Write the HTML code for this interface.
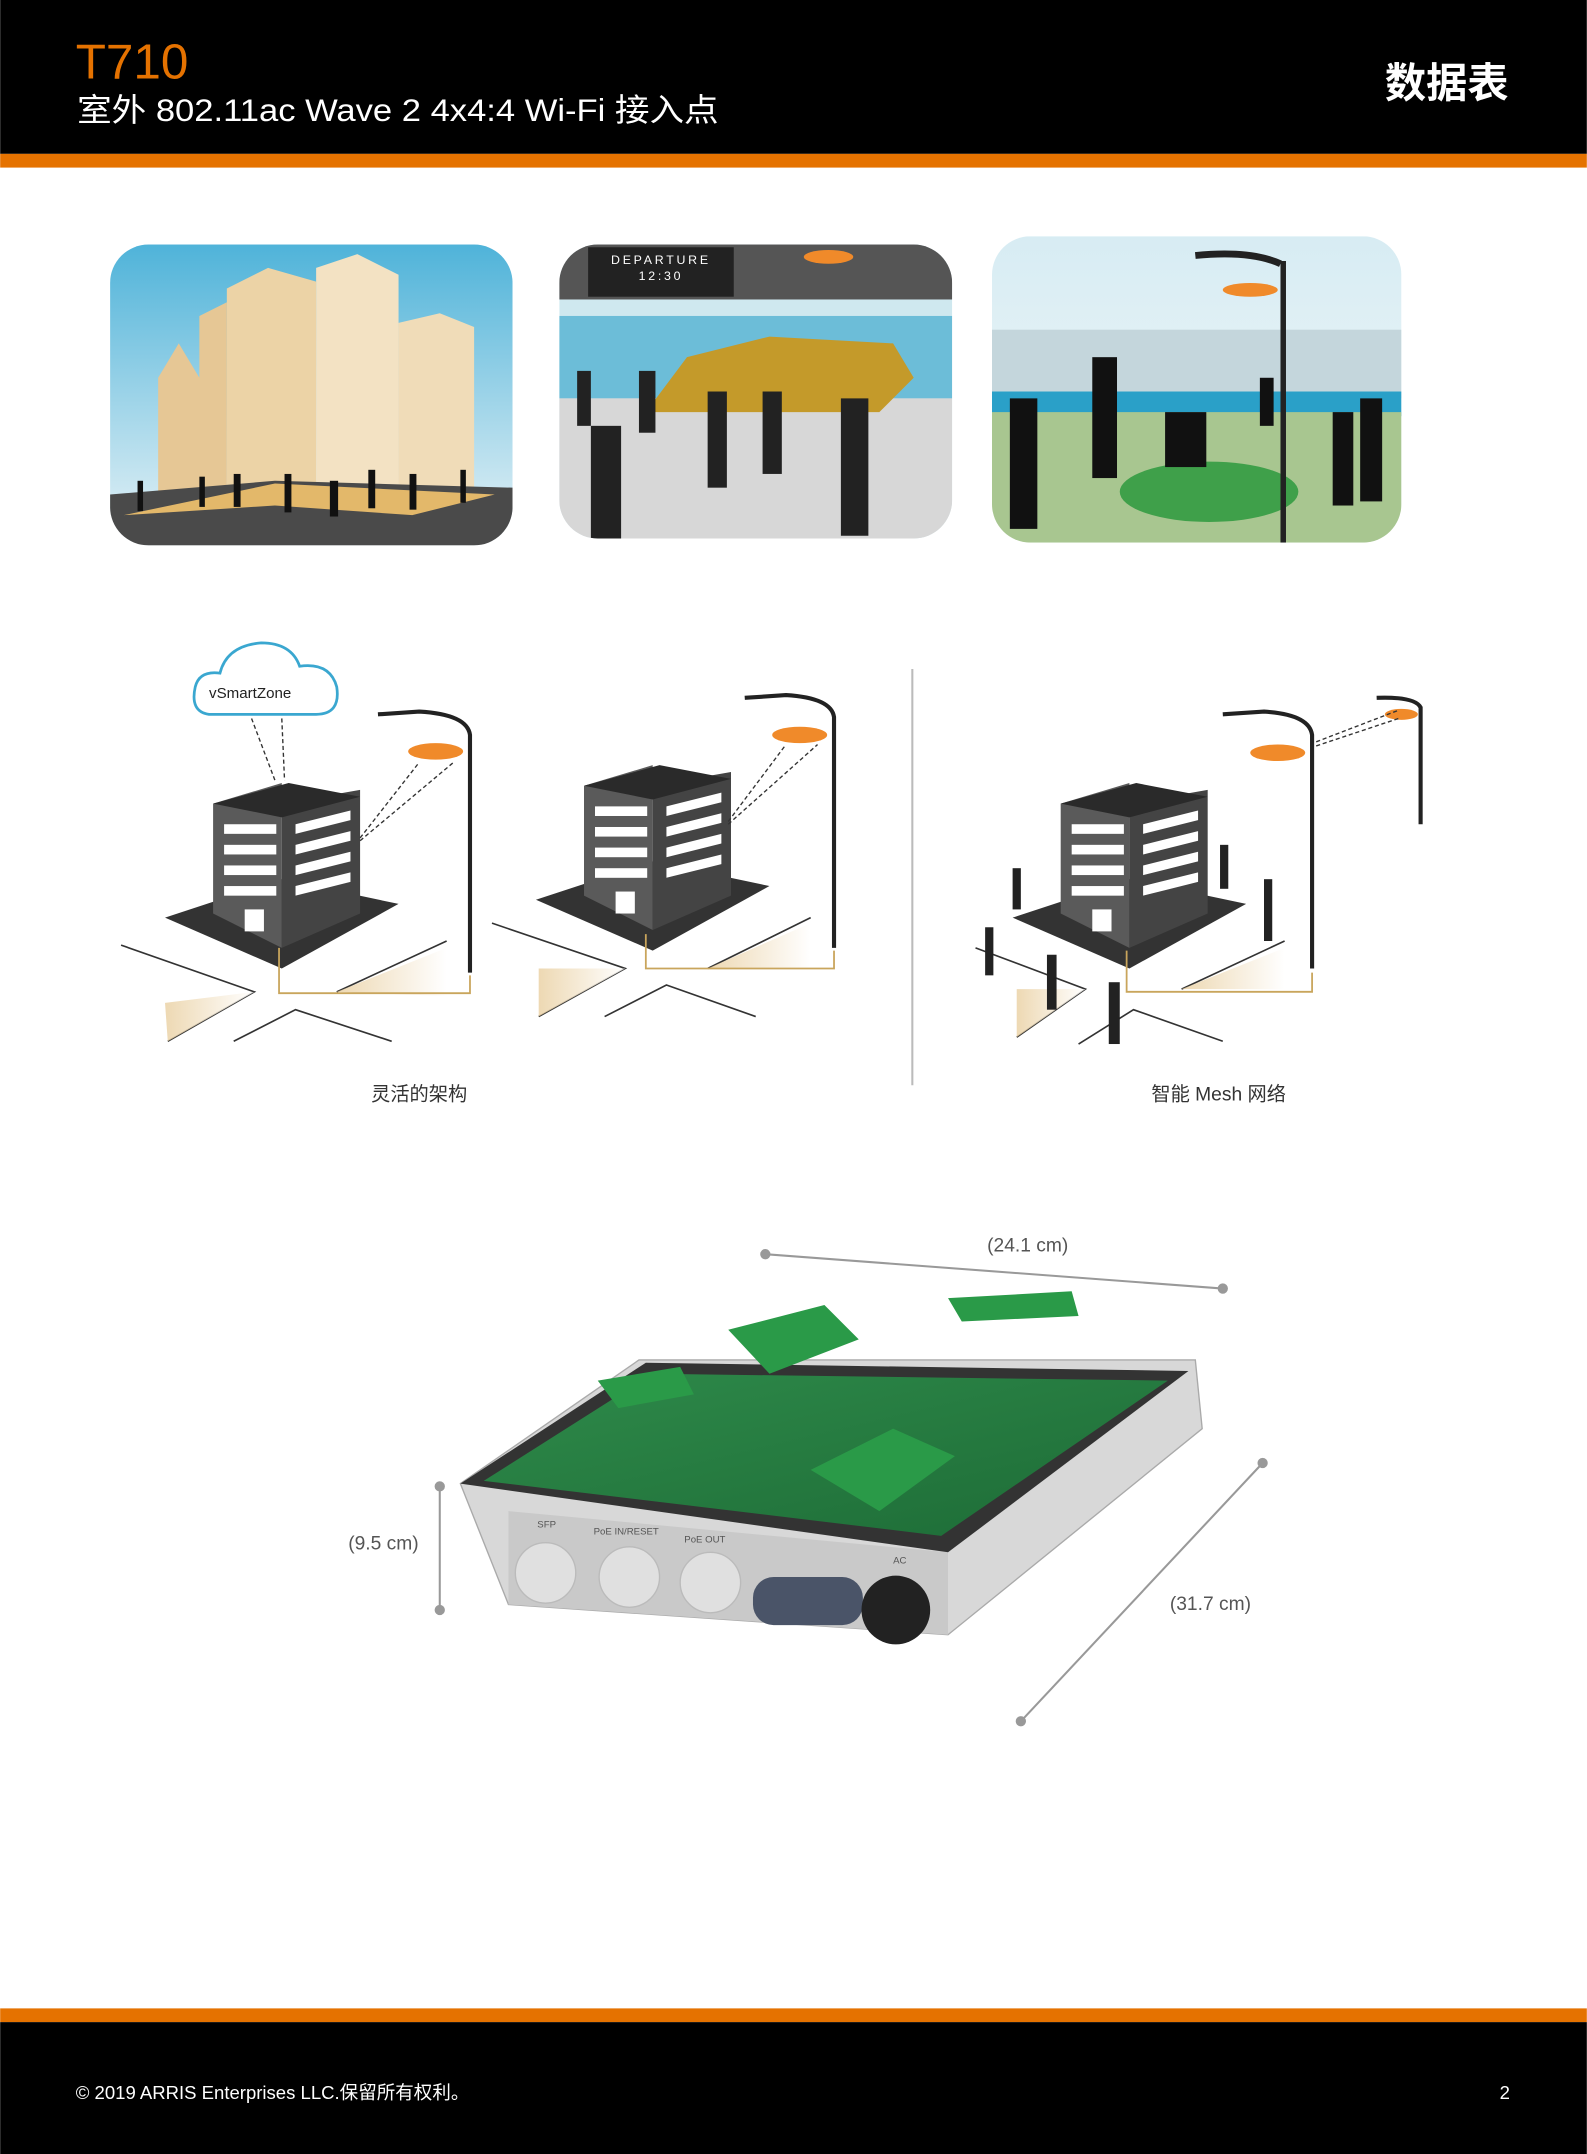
<!DOCTYPE html>
<html><head><meta charset="utf-8"><style>
html,body{margin:0;padding:0;background:#fff}
svg{display:block}
text{font-family:"Liberation Sans","Noto Sans CJK SC",sans-serif}
</style></head><body>
<svg width="1587" height="2154" viewBox="0 0 1155 1568" xmlns="http://www.w3.org/2000/svg">
<defs>
<linearGradient id="sky" x1="0" y1="0" x2="0" y2="1"><stop offset="0" stop-color="#4fb3d9"/><stop offset="1" stop-color="#e8f3f7"/></linearGradient>
<linearGradient id="sky2" x1="0" y1="0" x2="0" y2="1"><stop offset="0" stop-color="#d7ecf3"/><stop offset="1" stop-color="#f3f8f9"/></linearGradient>
<linearGradient id="road" x1="0" y1="0" x2="1" y2="0"><stop offset="0" stop-color="#e9cfa0"/><stop offset="1" stop-color="#fff"/></linearGradient>
<linearGradient id="grn" x1="0" y1="0" x2="1" y2="1"><stop offset="0" stop-color="#2e8a4a"/><stop offset="1" stop-color="#1d6b36"/></linearGradient>
</defs>
<rect x="0" y="0" width="1155" height="112" fill="#000"/>
<rect x="0" y="112" width="1155" height="10" fill="#e57200"/>
<text x="55" y="57" font-size="36" fill="#e57200">T710</text>
<text x="56" y="88" font-size="23" fill="#fff" textLength="467" lengthAdjust="spacingAndGlyphs">室外 802.11ac Wave 2 4x4:4 Wi-Fi 接入点</text>
<text x="1098" y="71" font-size="30" fill="#fff" font-weight="bold" text-anchor="end">数据表</text>

<clipPath id="c1"><rect x="80" y="178" width="293" height="219" rx="28"/></clipPath>
<g clip-path="url(#c1)">
<rect x="80" y="178" width="293" height="219" fill="url(#sky)"/>
<polygon points="115,360 115,275 130,250 145,275 145,230 165,220 165,360" fill="#e6c795"/>
<polygon points="165,360 165,210 195,195 230,205 230,360" fill="#ecd3a6"/>
<polygon points="230,360 230,195 260,185 290,200 290,360" fill="#f3e2c3"/>
<polygon points="290,360 290,235 320,228 345,238 345,360" fill="#f0dcb8"/>
<polygon points="80,397 80,360 200,350 373,355 373,397" fill="#4a4a4a"/>
<polygon points="90,375 200,352 360,360 300,375 200,368" fill="#e3b86a"/>
<g fill="#111"><rect x="100" y="350" width="4" height="22"/><rect x="145" y="347" width="4" height="22"/><rect x="170" y="345" width="5" height="24"/><rect x="207" y="345" width="5" height="28"/><rect x="240" y="350" width="6" height="26"/><rect x="268" y="342" width="5" height="28"/><rect x="298" y="345" width="5" height="26"/><rect x="335" y="342" width="4" height="24"/></g>
</g>
<clipPath id="c2"><rect x="407" y="178" width="286" height="214" rx="28"/></clipPath>
<g clip-path="url(#c2)">
<rect x="407" y="178" width="286" height="214" fill="#cfe8ef"/>
<rect x="407" y="230" width="286" height="60" fill="#2aa0c8" opacity=".6"/>
<rect x="407" y="290" width="286" height="102" fill="#d7d7d7"/>
<polygon points="470,300 500,260 560,245 650,250 665,275 640,300" fill="#c49a2a"/>
<rect x="407" y="178" width="286" height="40" fill="#555"/>
<rect x="428" y="180" width="106" height="36" fill="#222"/>
<text x="481" y="192" font-size="9" fill="#fff" text-anchor="middle" letter-spacing="2">DEPARTURE</text>
<text x="481" y="204" font-size="9" fill="#fff" text-anchor="middle" letter-spacing="2">12:30</text>
<ellipse cx="603" cy="187" rx="18" ry="5" fill="#f08a2a"/>
<g fill="#222"><rect x="430" y="310" width="22" height="82"/><rect x="515" y="285" width="14" height="70"/><rect x="465" y="270" width="12" height="45"/><rect x="555" y="285" width="14" height="60"/><rect x="612" y="290" width="20" height="100"/><rect x="420" y="270" width="10" height="40"/></g>
</g>
<clipPath id="c3"><rect x="722" y="172" width="298" height="223" rx="28"/></clipPath>
<g clip-path="url(#c3)">
<rect x="722" y="172" width="298" height="223" fill="url(#sky2)"/>
<rect x="722" y="240" width="298" height="50" fill="#c4d6dc"/>
<rect x="722" y="285" width="298" height="18" fill="#2aa0c8"/>
<rect x="722" y="300" width="298" height="95" fill="#a8c690"/>
<ellipse cx="880" cy="358" rx="65" ry="22" fill="#3fa04a"/>
<rect x="932" y="190" width="4" height="205" fill="#222"/>
<path d="M932 192 Q910 182 870 186" stroke="#222" stroke-width="5" fill="none"/>
<ellipse cx="910" cy="211" rx="20" ry="5" fill="#f08a2a"/>
<g fill="#111"><rect x="735" y="290" width="20" height="95"/><rect x="795" y="260" width="18" height="88"/><rect x="848" y="300" width="30" height="40"/><rect x="970" y="300" width="15" height="68"/><rect x="990" y="290" width="16" height="75"/><rect x="917" y="275" width="10" height="35"/></g>
</g>

<g stroke="#333" stroke-width="1.2" fill="none">
<path d="M88 688 L185 722 L122 758"/><path d="M170 758 L215 735 L285 758"/><path d="M245 722 L325 685"/>
<path d="M358 672 L455 705 L392 740"/><path d="M440 740 L485 717 L550 740"/><path d="M515 705 L590 668"/>
<path d="M710 690 L790 720 L740 755"/><path d="M785 760 L825 735 L890 758"/><path d="M860 720 L935 685"/>
</g>
<polygon points="120,730 185,722 122,758" fill="url(#road)" opacity=".8"/>
<polygon points="245,722 325,690 325,725" fill="url(#road)" opacity=".8"/>
<polygon points="392,705 455,705 392,740" fill="url(#road)" opacity=".8"/>
<polygon points="515,705 590,672 590,705" fill="url(#road)" opacity=".8"/>
<polygon points="740,720 790,720 740,755" fill="url(#road)" opacity=".8"/>
<polygon points="860,720 935,690 935,720" fill="url(#road)" opacity=".8"/>
<g id="b">
<polygon points="120,668 205,640 290,658 205,705" fill="#333"/>
<polygon points="155,585 205,570 205,690 155,665" fill="#5a5a5a"/>
<polygon points="205,585 262,575 262,665 205,690" fill="#444"/>
<polygon points="155,585 210,570 262,580 205,595" fill="#2a2a2a"/>
<g fill="#fff"><rect x="163" y="600" width="38" height="7"/><rect x="163" y="615" width="38" height="7"/><rect x="163" y="630" width="38" height="7"/><rect x="163" y="645" width="38" height="7"/><rect x="178" y="662" width="14" height="16"/>
<polygon points="215,600 255,590 255,597 215,607"/><polygon points="215,615 255,605 255,612 215,622"/><polygon points="215,630 255,620 255,627 215,637"/><polygon points="215,645 255,635 255,642 215,652"/></g>
</g>
<use href="#b" transform="translate(270,-13)"/>
<use href="#b" transform="translate(617,0)"/>
<g stroke="#222" stroke-width="3" fill="none">
<path d="M342 708 L342 535 Q340 520 305 518 L275 520"/>
<path d="M607 690 L607 522 Q605 508 572 506 L542 508"/>
<path d="M955 705 L955 535 Q953 520 920 518 L890 520"/>
<path d="M1034 600 L1034 515 Q1030 507 1002 508"/>
</g>
<ellipse cx="317" cy="547" rx="20" ry="6" fill="#f08a2a"/>
<ellipse cx="582" cy="535" rx="20" ry="6" fill="#f08a2a"/>
<ellipse cx="930" cy="548" rx="20" ry="6" fill="#f08a2a"/>
<ellipse cx="1020" cy="520" rx="12" ry="4" fill="#f08a2a"/>
<g stroke="#333" stroke-dasharray="3,2" fill="none">
<path d="M262 610 L305 555 M262 612 L330 555"/><path d="M530 598 L572 542 M530 600 L595 542"/>
<path d="M183 523 L200 568 M205 523 L207 568"/><path d="M958 543 L1018 523 M958 540 L1018 517"/>
</g>
<g stroke="#c9a55c" stroke-width="1.3" fill="none">
<path d="M203 690 L203 723 L342 723 L342 710"/><path d="M470 680 L470 705 L607 705 L607 692"/><path d="M820 692 L820 722 L955 722 L955 708"/>
</g>
<path d="M152 520 Q138 518 142 500 Q145 488 160 490 Q165 470 190 468 Q212 468 218 485 Q240 482 245 500 Q248 520 230 520 Z" fill="#fff" stroke="#3aa7d0" stroke-width="2"/>
<text x="182" y="508" font-size="11" fill="#222" text-anchor="middle">vSmartZone</text>
<g fill="#222"><rect x="737" y="632" width="6" height="30"/><rect x="717" y="675" width="6" height="35"/><rect x="762" y="695" width="7" height="40"/><rect x="807" y="715" width="8" height="45"/><rect x="888" y="615" width="6" height="32"/><rect x="920" y="640" width="6" height="45"/></g>
<line x1="664" y1="487" x2="664" y2="790" stroke="#bbb" stroke-width="1.5"/>
<text x="305" y="801" font-size="14" fill="#333" text-anchor="middle">灵活的架构</text>
<text x="887" y="801" font-size="14" fill="#333" text-anchor="middle">智能 Mesh 网络</text>

<g stroke="#999" stroke-width="1.5" fill="#999">
<line x1="557" y1="913" x2="890" y2="938"/><circle cx="557" cy="913" r="3"/><circle cx="890" cy="938" r="3"/>
<line x1="320" y1="1082" x2="320" y2="1172"/><circle cx="320" cy="1082" r="3"/><circle cx="320" cy="1172" r="3"/>
<line x1="919" y1="1065" x2="743" y2="1253"/><circle cx="919" cy="1065" r="3"/><circle cx="743" cy="1253" r="3"/>
</g>
<text x="748" y="911" font-size="14" fill="#555" text-anchor="middle">(24.1 cm)</text>
<text x="279" y="1128" font-size="14" fill="#555" text-anchor="middle">(9.5 cm)</text>
<text x="881" y="1172" font-size="14" fill="#555" text-anchor="middle">(31.7 cm)</text>
<polygon points="335,1080 465,990 870,990 875,1040 690,1190 370,1168" fill="#d8d8d8" stroke="#aaa"/>
<polygon points="370,1100 690,1130 690,1190 370,1168" fill="#c9c9c9"/>
<polygon points="335,1080 470,992 865,998 690,1130" fill="#333"/>
<polygon points="352,1078 475,1000 850,1005 685,1118" fill="url(#grn)"/>
<g fill="#2a9a48"><polygon points="435,1005 495,995 505,1015 450,1025"/><polygon points="690,945 780,940 785,958 700,962"/><polygon points="530,968 600,950 625,975 560,1000"/><polygon points="590,1070 650,1040 695,1060 640,1100"/></g>
<g fill="#e0e0e0" stroke="#bbb"><circle cx="397" cy="1145" r="22"/><circle cx="458" cy="1148" r="22"/><circle cx="517" cy="1152" r="22"/></g>
<rect x="548" y="1148" width="80" height="35" rx="15" fill="#4a5468"/>
<circle cx="652" cy="1172" r="25" fill="#222"/>
<text x="391" y="1112" font-size="7" fill="#555">SFP</text><text x="432" y="1117" font-size="7" fill="#555">PoE IN/RESET</text><text x="498" y="1123" font-size="7" fill="#555">PoE OUT</text><text x="650" y="1138" font-size="7" fill="#555">AC</text>

<rect x="0" y="1462" width="1155" height="10" fill="#e57200"/>
<rect x="0" y="1472" width="1155" height="96" fill="#000"/>
<text x="55" y="1528" font-size="13.5" fill="#fff">© 2019 ARRIS Enterprises LLC.保留所有权利。</text>
<text x="1099" y="1528" font-size="13.5" fill="#fff" text-anchor="end">2</text>
</svg>
</body></html>
